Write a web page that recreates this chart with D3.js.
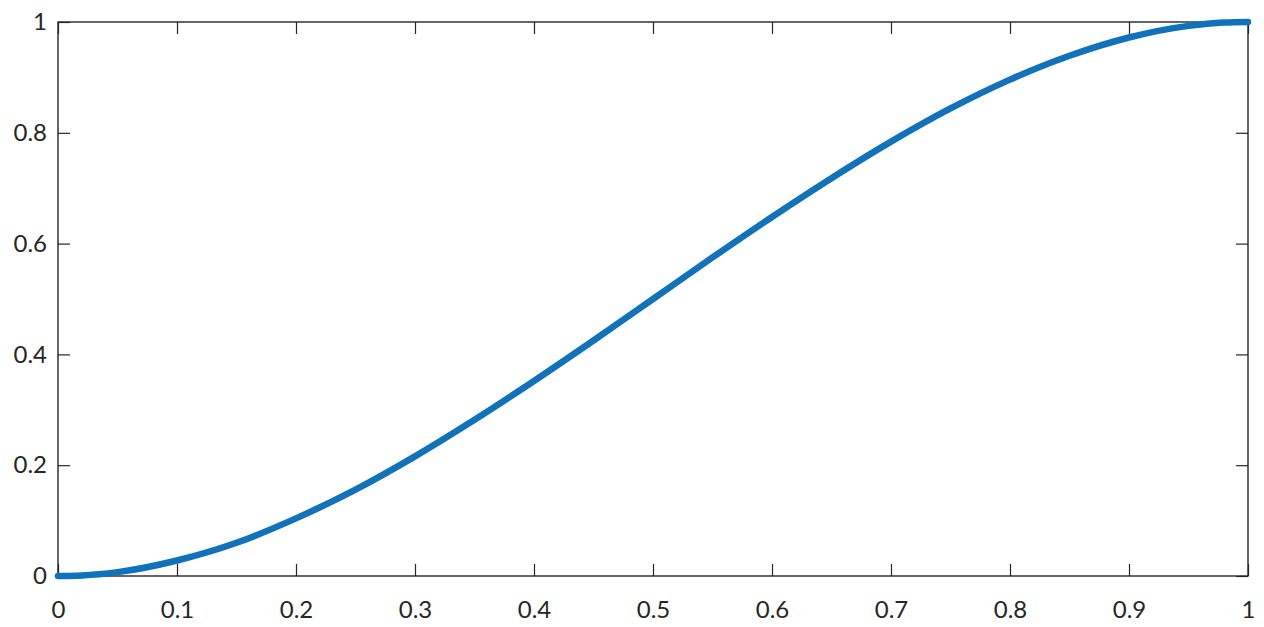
<!DOCTYPE html>
<html>
<head>
<meta charset="utf-8">
<script src="https://cdn.jsdelivr.net/npm/d3@7"></script>
<style>
  body { margin: 0; background: #fff; }
  .tick text { font-family: Lato, "Open Sans", sans-serif; font-size: 24px; fill: #262626; }
</style>
</head>
<body>
<div id="chart"></div>
<script>
// values
var xs = [0, 0.02, 0.05, 0.1, 0.15, 0.2, 0.25, 0.3, 0.35, 0.4, 0.45, 0.5, 0.55, 0.6, 0.65, 0.7, 0.75, 0.8, 0.85, 0.9, 0.95, 0.98, 1];
var ys = [0, 0.001, 0.007, 0.028, 0.06, 0.104, 0.156, 0.216, 0.282, 0.352, 0.425, 0.5, 0.575, 0.648, 0.718, 0.784, 0.844, 0.896, 0.939, 0.972, 0.993, 0.999, 1];
var xTicks = [0, 0.1, 0.2, 0.3, 0.4, 0.5, 0.6, 0.7, 0.8, 0.9, 1];
var yTicks = [0, 0.2, 0.4, 0.6, 0.8, 1];

var width = 1264, height = 627;
var margin = {top: 22, right: 16, bottom: 51, left: 58};
var w = width - margin.left - margin.right;
var h = height - margin.top - margin.bottom;

var fmt = d => d === 0 || d === 1 ? String(d) : d3.format(".1f")(d);

var svg = d3.select("#chart")
  .append("svg")
  .attr("width", width)
  .attr("height", height)
  .append("g")
  .attr("transform", "translate(" + [margin.left, margin.top] + ")");

var x = d3.scaleLinear().domain([0, 1]).range([0, w]);
var y = d3.scaleLinear().domain([0, 1]).range([h, 0]);

var tickLen = 12;

// ticks point inward on all four sides
var gx = svg.append("g")
  .attr("transform", "translate(0," + h + ")")
  .call(d3.axisBottom(x).tickValues(xTicks).tickFormat(fmt).tickSize(-tickLen).tickPadding(0));
gx.selectAll(".tick text").attr("dy", null).attr("y", 42);

var gy = svg.append("g")
  .call(d3.axisLeft(y).tickValues(yTicks).tickFormat(fmt).tickSize(-tickLen).tickPadding(0));
gy.selectAll(".tick text").attr("x", -11);

svg.append("g")
  .call(d3.axisTop(x).tickValues(xTicks).tickFormat("").tickSize(-tickLen));
svg.append("g")
  .attr("transform", "translate(" + w + ",0)")
  .call(d3.axisRight(y).tickValues(yTicks).tickFormat("").tickSize(-tickLen));

svg.selectAll(".domain").remove();
svg.selectAll(".tick line").attr("stroke", "#262626").attr("stroke-width", 1.2);

svg.append("rect")
  .attr("width", w)
  .attr("height", h)
  .attr("fill", "none")
  .attr("stroke", "#262626")
  .attr("stroke-width", 1.4);

var pts = xs.map((d, i) => [d, ys[i]]);
var line = d3.line()
  .x(d => x(d[0]))
  .y(d => y(d[1]))
  .curve(d3.curveMonotoneX);

svg.append("path")
  .datum(pts)
  .attr("fill", "none")
  .attr("stroke", "#0f72bb")
  .attr("stroke-width", 6.5)
  .attr("stroke-linecap", "round")
  .attr("stroke-linejoin", "round")
  .attr("d", line);
</script>
</body>
</html>
